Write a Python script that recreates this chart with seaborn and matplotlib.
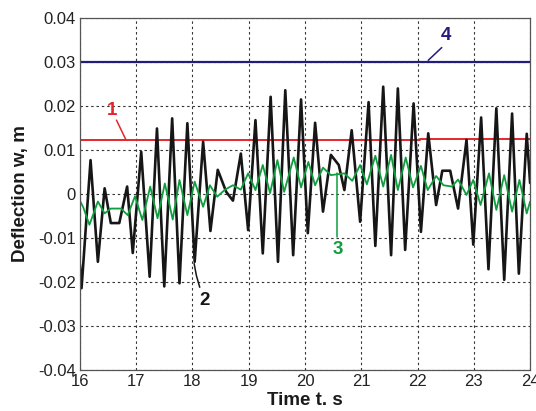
import matplotlib
matplotlib.use("Agg")
import matplotlib.pyplot as plt
import numpy as np
import pandas as pd
import seaborn as sns

# Curve 2: computed deflection (turning points of the response)
time_2 = [16.00, 16.03, 16.19, 16.32, 16.44, 16.55, 16.70, 16.84, 16.94, 17.09,
          17.24, 17.37, 17.50, 17.64, 17.77, 17.91, 18.04, 18.19, 18.32, 18.45,
          18.60, 18.72, 18.86, 18.99, 19.12, 19.25, 19.39, 19.52, 19.65, 19.79,
          19.93, 20.05, 20.18, 20.32, 20.46, 20.60, 20.70, 20.83, 20.98, 21.13,
          21.25, 21.39, 21.53, 21.65, 21.78, 21.93, 22.06, 22.19, 22.33, 22.44,
          22.58, 22.72, 22.87, 22.99, 23.13, 23.26, 23.40, 23.54, 23.68, 23.80,
          23.94, 24.00]
defl_2 = [-0.0160, -0.0214, 0.0077, -0.0154, 0.0013, -0.0066, -0.0066, 0.0017, -0.0134, 0.0096,
          -0.0188, 0.0149, -0.0210, 0.0172, -0.0203, 0.0161, -0.0154, 0.0119, -0.0084, 0.0055,
          0.0005, -0.0015, 0.0092, -0.0082, 0.0168, -0.0135, 0.0221, -0.0154, 0.0236, -0.0139,
          0.0215, -0.0089, 0.0162, -0.0040, 0.0089, 0.0066, 0.0009, 0.0145, -0.0063, 0.0209,
          -0.0118, 0.0244, -0.0139, 0.0240, -0.0127, 0.0206, -0.0086, 0.0138, -0.0025, 0.0053,
          0.0053, -0.0033, 0.0123, -0.0115, 0.0174, -0.0171, 0.0195, -0.0195, 0.0183, -0.0181,
          0.0137, 0.0025]

# Curve 3: controlled deflection
time_3 = [16.00, 16.06, 16.17, 16.32, 16.44, 16.55, 16.73, 16.85, 16.98, 17.11,
          17.25, 17.38, 17.51, 17.65, 17.77, 17.91, 18.04, 18.19, 18.31, 18.44,
          18.58, 18.72, 18.86, 18.99, 19.12, 19.25, 19.38, 19.51, 19.63, 19.80,
          19.93, 20.06, 20.18, 20.32, 20.46, 20.58, 20.70, 20.84, 20.98, 21.10,
          21.25, 21.39, 21.53, 21.65, 21.79, 21.92, 22.06, 22.18, 22.33, 22.46,
          22.61, 22.72, 22.87, 22.99, 23.12, 23.27, 23.40, 23.54, 23.68, 23.81,
          23.94, 24.00]
defl_3 = [-0.0015, -0.0030, -0.0070, -0.0017, -0.0044, -0.0033, -0.0033, -0.0048, -0.0005, -0.0059,
          0.0017, -0.0055, 0.0024, -0.0058, 0.0032, -0.0048, 0.0028, -0.0029, 0.0020, -0.0006,
          0.0010, 0.0020, 0.0010, 0.0047, 0.0009, 0.0066, 0.0002, 0.0077, 0.0005, 0.0083,
          0.0015, 0.0073, 0.0020, 0.0060, 0.0043, 0.0045, 0.0047, 0.0030, 0.0066, 0.0022,
          0.0087, 0.0017, 0.0089, 0.0009, 0.0083, 0.0015, 0.0064, 0.0009, 0.0041, 0.0020,
          0.0017, 0.0033, -0.0002, 0.0032, -0.0025, 0.0047, -0.0036, 0.0043, -0.0040, 0.0032,
          -0.0044, -0.0017]

# Curve 1: red level, curve 4: blue limit
time_1 = [16.00, 22.05, 22.05, 24.00]
defl_1 = [0.0122, 0.0122, 0.0124, 0.0124]
time_4 = [16.00, 24.00]
defl_4 = [0.030, 0.030]

x_ticks = [16, 17, 18, 19, 20, 21, 22, 23, 24]
y_ticks = [-0.04, -0.03, -0.02, -0.01, 0.0, 0.01, 0.02, 0.03, 0.04]
y_tick_labels = ["-0.04", "-0.03", "-0.02", "-0.01", "0", "0.01", "0.02", "0.03", "0.04"]

sns.set_style("white")
plt.rcParams["font.family"] = ["Liberation Sans", "DejaVu Sans"]

fig, ax = plt.subplots(figsize=(5.36, 4.11), dpi=100)
fig.subplots_adjust(left=0.149, right=0.989, top=0.956, bottom=0.0998)

RED = "#e3262b"
GREEN = "#0f9e3e"
NAVY = "#241c78"
BLACK = "#161616"

df2 = pd.DataFrame({"t": time_2, "w": defl_2})
df3 = pd.DataFrame({"t": time_3, "w": defl_3})
df1 = pd.DataFrame({"t": time_1, "w": defl_1})
df4 = pd.DataFrame({"t": time_4, "w": defl_4})

sns.lineplot(data=df4, x="t", y="w", ax=ax, color=NAVY, lw=1.6, sort=False, estimator=None)
sns.lineplot(data=df1, x="t", y="w", ax=ax, color=RED, lw=1.4, sort=False, estimator=None)
sns.lineplot(data=df2, x="t", y="w", ax=ax, color=BLACK, lw=1.9, sort=False, estimator=None)
sns.lineplot(data=df3, x="t", y="w", ax=ax, color=GREEN, lw=1.3, sort=False, estimator=None)

ax.set_xlim(16, 24)
ax.set_ylim(-0.04, 0.04)
ax.set_xticks(x_ticks)
ax.set_xticklabels([str(v) for v in x_ticks])
ax.set_yticks(y_ticks)
ax.set_yticklabels(y_tick_labels)
ax.tick_params(axis="both", length=0, labelsize=12, colors="#222222")
ax.tick_params(axis="y", pad=3)
ax.tick_params(axis="x", pad=3)

ax.grid(True, color="#333333", linestyle=(0, (2.2, 2.6)), lw=0.8)
for s in ax.spines.values():
    s.set_color("#555555")
    s.set_linewidth(0.9)

ax.set_xlabel("Time t. s", fontsize=13.5, fontweight="bold", labelpad=2, color="#1a1a1a")
ax.set_ylabel("Deflection w, m", fontsize=13.5, fontweight="bold", labelpad=6, color="#1a1a1a")

# Curve labels with leader lines
ax.plot([16.65, 16.82], [0.0168, 0.0123], color=RED, lw=1.1)
ax.text(16.58, 0.0190, "1", color=RED, fontsize=13.5, fontweight="bold", ha="center", va="center")

ax.plot([22.43, 22.19], [0.0333, 0.0304], color=NAVY, lw=1.1)
ax.text(22.51, 0.0361, "4", color=NAVY, fontsize=13.5, fontweight="bold", ha="center", va="center")

ax.plot([18.13, 18.07, 18.03], [-0.0212, -0.0185, -0.0158], color=BLACK, lw=1.1)
ax.text(18.22, -0.0243, "2", color=BLACK, fontsize=13.5, fontweight="bold", ha="center", va="center")

ax.plot([20.56, 20.56], [0.0047, -0.0097], color=GREEN, lw=1.1)
ax.text(20.59, -0.0125, "3", color=GREEN, fontsize=13.5, fontweight="bold", ha="center", va="center")

fig.savefig("out.png", dpi=100)
